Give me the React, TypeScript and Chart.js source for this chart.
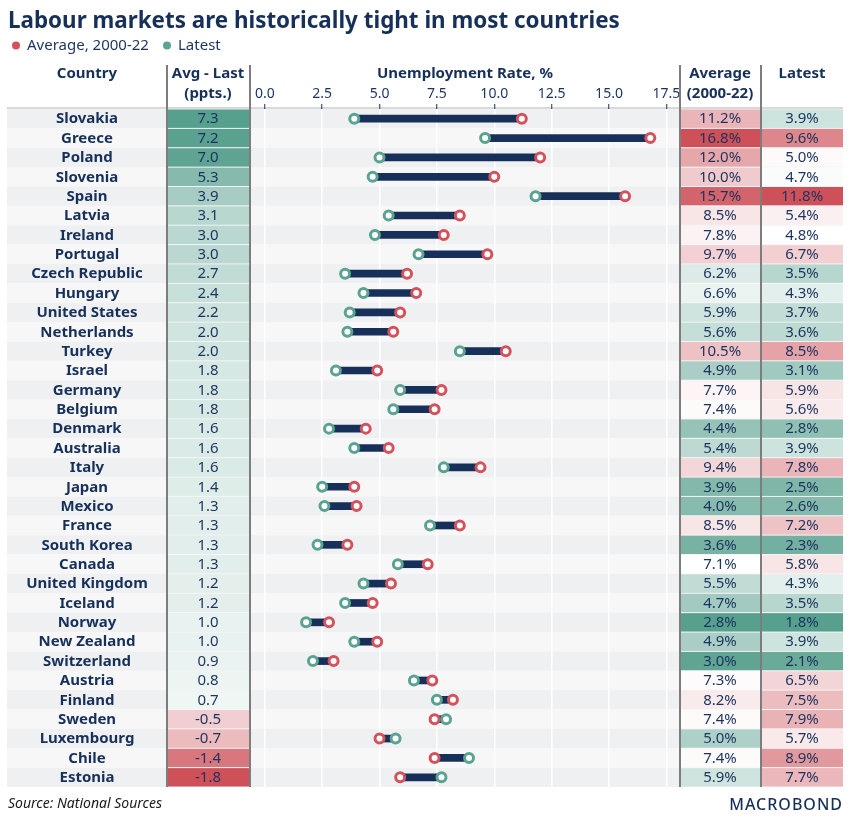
import React, { useEffect, useRef } from 'react';
import { Chart, registerables } from 'chart.js';

Chart.register(...registerables);

const countries = [
  'Slovakia', 'Greece', 'Poland', 'Slovenia', 'Spain', 'Latvia', 'Ireland', 'Portugal',
  'Czech Republic', 'Hungary', 'United States', 'Netherlands', 'Turkey', 'Israel', 'Germany',
  'Belgium', 'Denmark', 'Australia', 'Italy', 'Japan', 'Mexico', 'France', 'South Korea',
  'Canada', 'United Kingdom', 'Iceland', 'Norway', 'New Zealand', 'Switzerland', 'Austria',
  'Finland', 'Sweden', 'Luxembourg', 'Chile', 'Estonia',
];
const avgMinusLast = [
  7.3, 7.2, 7.0, 5.3, 3.9, 3.1, 3.0, 3.0, 2.7, 2.4, 2.2, 2.0, 2.0, 1.8, 1.8, 1.8, 1.6, 1.6,
  1.6, 1.4, 1.3, 1.3, 1.3, 1.3, 1.2, 1.2, 1.0, 1.0, 0.9, 0.8, 0.7, -0.5, -0.7, -1.4, -1.8,
];
const average = [
  11.2, 16.8, 12.0, 10.0, 15.7, 8.5, 7.8, 9.7, 6.2, 6.6, 5.9, 5.6, 10.5, 4.9, 7.7, 7.4, 4.4,
  5.4, 9.4, 3.9, 4.0, 8.5, 3.6, 7.1, 5.5, 4.7, 2.8, 4.9, 3.0, 7.3, 8.2, 7.4, 5.0, 7.4, 5.9,
];
const latest = [
  3.9, 9.6, 5.0, 4.7, 11.8, 5.4, 4.8, 6.7, 3.5, 4.3, 3.7, 3.6, 8.5, 3.1, 5.9, 5.6, 2.8, 3.9,
  7.8, 2.5, 2.6, 7.2, 2.3, 5.8, 4.3, 3.5, 1.8, 3.9, 2.1, 6.5, 7.5, 7.9, 5.7, 8.9, 7.7,
];
const xTicks = [0, 2.5, 5, 7.5, 10, 12.5, 15, 17.5];

const NAVY = '#16305a';
const TEXT = '#1b335e';
const RED = '#d4525c';
const TEAL = '#5aa391';
const TEAL_RGB = [88, 160, 142];
const RED_RGB = [206, 80, 89];
const FONT = "'Noto Sans', sans-serif";

function median(a: number[]) {
  const s = [...a].sort((p, q) => p - q);
  return s[Math.floor(s.length / 2)];
}

// hiColor: colour used above mid, loColor below mid
function diverge(v: number, min: number, mid: number, max: number, hiRGB: number[], loRGB: number[]) {
  let c: number[];
  let t: number;
  if (v >= mid) {
    c = hiRGB;
    t = max === mid ? 0 : (v - mid) / (max - mid);
  } else {
    c = loRGB;
    t = (mid - v) / (mid - min);
  }
  t = Math.max(0, Math.min(1, t));
  const m = (k: number) => Math.round(255 + (c[k] - 255) * t);
  return `rgb(${m(0)},${m(1)},${m(2)})`;
}

const COL_AL = { x0: 168, x1: 249, cx: 208 };
const COL_AVG = { x0: 681, x1: 760, cx: 720 };
const COL_LAT = { x0: 762, x1: 843, cx: 802 };

const tablePlugin = {
  id: 'tablePlugin',
  beforeDraw(chart: any) {
    const { ctx, chartArea } = chart;
    const y = chart.scales.y;
    ctx.save();
    ctx.fillStyle = '#ffffff';
    ctx.fillRect(0, 0, chart.width, chart.height);
    const rowH = y.getPixelForValue(1) - y.getPixelForValue(0);
    const alMin = Math.min(...avgMinusLast), alMax = Math.max(...avgMinusLast);
    const avMin = Math.min(...average), avMax = Math.max(...average), avMid = median(average);
    const laMin = Math.min(...latest), laMax = Math.max(...latest), laMid = median(latest);
    countries.forEach((_, i) => {
      const yc = y.getPixelForValue(i);
      const top = yc - rowH / 2;
      ctx.fillStyle = i % 2 === 0 ? '#eff0f2' : '#f7f7f8';
      ctx.fillRect(7, top, 836, rowH);
      ctx.fillStyle = diverge(avgMinusLast[i], alMin, 0, alMax, TEAL_RGB, RED_RGB);
      ctx.fillRect(COL_AL.x0, top + 0.5, COL_AL.x1 - COL_AL.x0, rowH - 1);
      ctx.fillStyle = diverge(average[i], avMin, avMid, avMax, RED_RGB, TEAL_RGB);
      ctx.fillRect(COL_AVG.x0, top + 0.5, COL_AVG.x1 - COL_AVG.x0, rowH - 1);
      ctx.fillStyle = diverge(latest[i], laMin, laMid, laMax, RED_RGB, TEAL_RGB);
      ctx.fillRect(COL_LAT.x0, top + 0.5, COL_LAT.x1 - COL_LAT.x0, rowH - 1);
    });
    ctx.strokeStyle = '#d9d9d9';
    ctx.lineWidth = 2;
    ctx.beginPath();
    ctx.moveTo(7, chartArea.top - 1);
    ctx.lineTo(843, chartArea.top - 1);
    ctx.stroke();
    ctx.restore();
  },
  afterDraw(chart: any) {
    const { ctx, chartArea } = chart;
    const y = chart.scales.y;
    ctx.save();
    ctx.strokeStyle = '#7d7d7d';
    ctx.lineWidth = 2;
    [167, 250, 680, 761].forEach((x) => {
      ctx.beginPath();
      ctx.moveTo(x, 65);
      ctx.lineTo(x, chartArea.bottom);
      ctx.stroke();
    });

    // title
    ctx.fillStyle = NAVY;
    ctx.textBaseline = 'alphabetic';
    ctx.textAlign = 'left';
    const title = 'Labour markets are historically tight in most countries';
    ctx.font = `bold 21px ${FONT}`;
    const tw = ctx.measureText(title).width;
    const ts = Math.max(18, Math.min(24, 21 * 612 / tw));
    ctx.font = `bold ${ts}px ${FONT}`;
    ctx.fillText(title, 8, 28);

    // legend
    ctx.textBaseline = 'middle';
    ctx.font = `15px ${FONT}`;
    ctx.fillStyle = RED;
    ctx.beginPath();
    ctx.arc(16, 45.5, 4, 0, Math.PI * 2);
    ctx.fill();
    ctx.fillStyle = TEXT;
    ctx.fillText('Average, 2000-22', 27, 45.5);
    ctx.fillStyle = TEAL;
    ctx.beginPath();
    ctx.arc(167, 45.5, 4, 0, Math.PI * 2);
    ctx.fill();
    ctx.fillStyle = TEXT;
    ctx.fillText('Latest', 178, 45.5);

    // headers
    ctx.textAlign = 'center';
    ctx.fillStyle = NAVY;
    ctx.font = `bold 15px ${FONT}`;
    ctx.fillText('Country', 87, 74);
    ctx.fillText('Avg - Last', COL_AL.cx, 74);
    ctx.fillText('(ppts.)', COL_AL.cx, 94);
    ctx.fillText('Average', COL_AVG.cx, 74);
    ctx.fillText('(2000-22)', COL_AVG.cx, 94);
    ctx.fillText('Latest', COL_LAT.cx, 74);

    // rows
    countries.forEach((c, i) => {
      const yc = y.getPixelForValue(i) + 0.5;
      ctx.fillStyle = NAVY;
      ctx.font = `bold 15px ${FONT}`;
      ctx.fillText(c, 87, yc);
      ctx.fillStyle = TEXT;
      ctx.font = `15px ${FONT}`;
      ctx.fillText(avgMinusLast[i].toFixed(1), COL_AL.cx, yc);
      ctx.fillText(average[i].toFixed(1) + '%', COL_AVG.cx, yc);
      ctx.fillText(latest[i].toFixed(1) + '%', COL_LAT.cx, yc);
    });

    // footer
    ctx.textAlign = 'left';
    ctx.fillStyle = '#1a1a1a';
    ctx.font = `italic 14px ${FONT}`;
    ctx.fillText('Source: National Sources', 8, 804);

    ctx.fillStyle = NAVY;
    ctx.font = `500 16px ${FONT}`;
    (ctx as any).letterSpacing = '1px';
    const mw = ctx.measureText('MACROBOND').width;
    ctx.fillText('MACROBOND', 843 - mw, 805);
    (ctx as any).letterSpacing = '0px';
    ctx.restore();
  },
};

export default function App() {
  const ref = useRef<HTMLCanvasElement | null>(null);
  useEffect(() => {
    document.body.style.margin = '0';
    const canvas = ref.current;
    if (!canvas) return;
    const chart = new Chart(canvas, {
      type: 'bar',
      data: {
        labels: countries,
        datasets: [
          {
            type: 'line',
            label: 'Average, 2000-22',
            data: average.map((v, i) => ({ x: v, y: countries[i] })),
            showLine: false,
            pointRadius: 4.5,
            pointBorderWidth: 3,
            pointBackgroundColor: '#ffffff',
            pointBorderColor: RED,
            order: 1,
          } as any,
          {
            type: 'line',
            label: 'Latest',
            data: latest.map((v, i) => ({ x: v, y: countries[i] })),
            showLine: false,
            pointRadius: 4.5,
            pointBorderWidth: 3,
            pointBackgroundColor: '#ffffff',
            pointBorderColor: TEAL,
            order: 2,
          } as any,
          {
            type: 'bar',
            label: 'Gap',
            data: latest.map((l, i) => [l, average[i]]),
            backgroundColor: NAVY,
            barThickness: 7,
            order: 3,
          } as any,
        ],
      },
      options: {
        indexAxis: 'y',
        responsive: false,
        animation: false,
        layout: { padding: { left: 251, right: 171, top: 65, bottom: 34 } },
        plugins: {
          legend: { display: false },
          tooltip: { enabled: false },
          title: { display: false },
        },
        scales: {
          x: {
            type: 'linear',
            position: 'top',
            min: -0.6,
            max: 18.05,
            afterBuildTicks: (s: any) => {
              s.ticks = xTicks.map((v) => ({ value: v }));
            },
            ticks: {
              callback: (v: any) => Number(v).toFixed(1),
              font: { family: FONT, size: 14 },
              color: TEXT,
              padding: 2,
              maxRotation: 0,
              autoSkip: false,
            },
            grid: {
              color: '#ffffff',
              lineWidth: 1.5,
              tickColor: NAVY,
              tickLength: 5,
              tickWidth: 1,
            },
            border: { display: false },
            title: {
              display: true,
              text: 'Unemployment Rate, %',
              font: { family: FONT, size: 15, weight: 'bold' },
              color: NAVY,
              padding: { top: 0, bottom: 0 },
            },
            afterFit: (s: any) => {
              s.height = 44;
            },
          },
          y: {
            type: 'category',
            display: false,
            offset: true,
            grid: { display: false },
          },
        },
      } as any,
      plugins: [tablePlugin],
    });
    return () => chart.destroy();
  }, []);
  return (
    <div style={{ width: 850, height: 821 }}>
      <canvas ref={ref} width={850} height={821} style={{ display: 'block' }} />
    </div>
  );
}
